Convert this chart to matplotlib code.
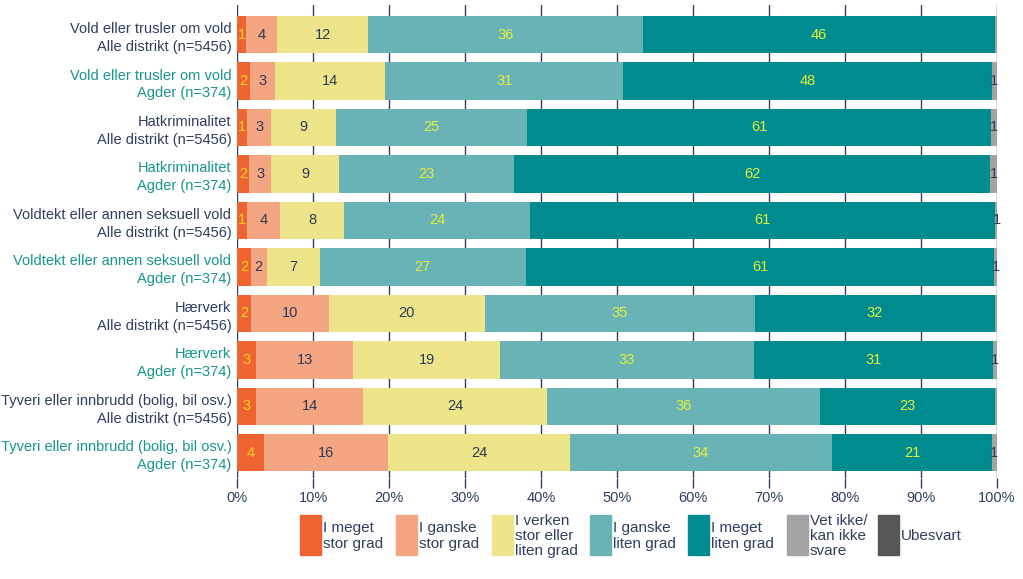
import matplotlib
matplotlib.use("Agg")
import matplotlib.pyplot as plt
from matplotlib.patches import Rectangle
import numpy as np

plt.rcParams['font.family'] = ['Liberation Sans', 'DejaVu Sans']

categories = [
    "Vold eller trusler om vold\nAlle distrikt (n=5456)",
    "Vold eller trusler om vold\nAgder (n=374)",
    "Hatkriminalitet\nAlle distrikt (n=5456)",
    "Hatkriminalitet\nAgder (n=374)",
    "Voldtekt eller annen seksuell vold\nAlle distrikt (n=5456)",
    "Voldtekt eller annen seksuell vold\nAgder (n=374)",
    "Hærverk\nAlle distrikt (n=5456)",
    "Hærverk\nAgder (n=374)",
    "Tyveri eller innbrudd (bolig, bil osv.)\nAlle distrikt (n=5456)",
    "Tyveri eller innbrudd (bolig, bil osv.)\nAgder (n=374)",
]
is_agder = [False, True, False, True, False, True, False, True, False, True]

series_names = ["I meget\nstor grad", "I ganske\nstor grad", "I verken\nstor eller\nliten grad",
                "I ganske\nliten grad", "I meget\nliten grad", "Vet ikke/\nkan ikke\nsvare", "Ubesvart"]

meget_stor = [1.2, 1.7, 1.3, 1.6, 1.3, 1.8, 1.8, 2.5, 2.5, 3.6]
ganske_stor = [4.1, 3.3, 3.2, 2.9, 4.4, 2.1, 10.3, 12.8, 14.1, 16.3]
verken = [11.9, 14.5, 8.5, 8.9, 8.4, 7.0, 20.5, 19.3, 24.2, 23.9]
ganske_liten = [36.2, 31.3, 25.2, 23.0, 24.5, 27.1, 35.6, 33.4, 35.9, 34.5]
meget_liten = [46.3, 48.5, 61.0, 62.7, 61.1, 61.6, 31.5, 31.5, 23.1, 21.0]
vet_ikke = [0.3, 0.7, 0.8, 0.9, 0.5, 0.5, 0.3, 0.5, 0.2, 0.7]
ubesvart = [0.0, 0.0, 0.0, 0.0, 0.0, 0.0, 0.0, 0.0, 0.0, 0.0]

# labels shown in the chart
labels_shown = [
    ["1", "4", "12", "36", "46", "", ""],
    ["2", "3", "14", "31", "48", "1", ""],
    ["1", "3", "9", "25", "61", "1", ""],
    ["2", "3", "9", "23", "62", "1", ""],
    ["1", "4", "8", "24", "61", "1", ""],
    ["2", "2", "7", "27", "61", "1", ""],
    ["2", "10", "20", "35", "32", "", ""],
    ["3", "13", "19", "33", "31", "1", ""],
    ["3", "14", "24", "36", "23", "", ""],
    ["4", "16", "24", "34", "21", "1", ""],
]

series = [meget_stor, ganske_stor, verken, ganske_liten, meget_liten, vet_ikke, ubesvart]
colors = ["#EE6430", "#F4A582", "#EEE48A", "#69B3B6", "#008C8F", "#A3A3A3", "#575757"]
text_colors = ["#FFD21F", "#2E3B55", "#2E3B55", "#E5F03A", "#E5F03A", "#2E3B55", "#FFFFFF"]

navy = "#2E3F63"
teal_txt = "#17958F"

W, H = 1023, 579
fig = plt.figure(figsize=(W / 100, H / 100), dpi=100)
ax = fig.add_axes([237 / W, 1 - 478 / H, 760 / W, 473 / H])

y = np.arange(len(categories))
left = np.zeros(len(categories))
for i, (vals, col) in enumerate(zip(series, colors)):
    vals = np.array(vals)
    ax.barh(y, vals, left=left, height=0.8, color=col, label=series_names[i], zorder=2)
    for j in range(len(categories)):
        lab = labels_shown[j][i]
        if lab:
            ax.text(left[j] + vals[j] / 2, y[j], lab, ha="center", va="center",
                    fontsize=10.5, color=text_colors[i], zorder=3)
    left += vals

ax.set_xlim(0, 100)
ax.set_ylim(9.54, -0.635)
ax.set_yticks(y)
ax.set_yticklabels(categories, fontsize=10.5, linespacing=1.35)
for tl, ag in zip(ax.get_yticklabels(), is_agder):
    tl.set_color(teal_txt if ag else navy)
ax.tick_params(axis="y", length=0, pad=4)
ax.set_xticks(np.arange(0, 101, 10))
ax.set_xticklabels([f"{v}%" for v in range(0, 101, 10)], fontsize=10.5, color=navy)
ax.tick_params(axis="x", length=7, color=navy, width=1, direction="out", pad=2)
ax.grid(axis="x", color=navy, linewidth=1, zorder=0)
ax.set_axisbelow(True)
for s in ax.spines.values():
    s.set_visible(False)

# legend (manual layout to match reference)
legend_x = [300, 396, 492, 590, 688, 787, 878]
for x0, name, col in zip(legend_x, series_names, colors):
    fig.add_artist(Rectangle((x0 / W, 1 - 555 / H), 21 / W, 40 / H,
                             transform=fig.transFigure, color=col))
    fig.text((x0 + 23) / W, 1 - 536 / H, name, ha="left", va="center",
             fontsize=11, color=navy, linespacing=1.12)

fig.savefig("out.png", dpi=100)
